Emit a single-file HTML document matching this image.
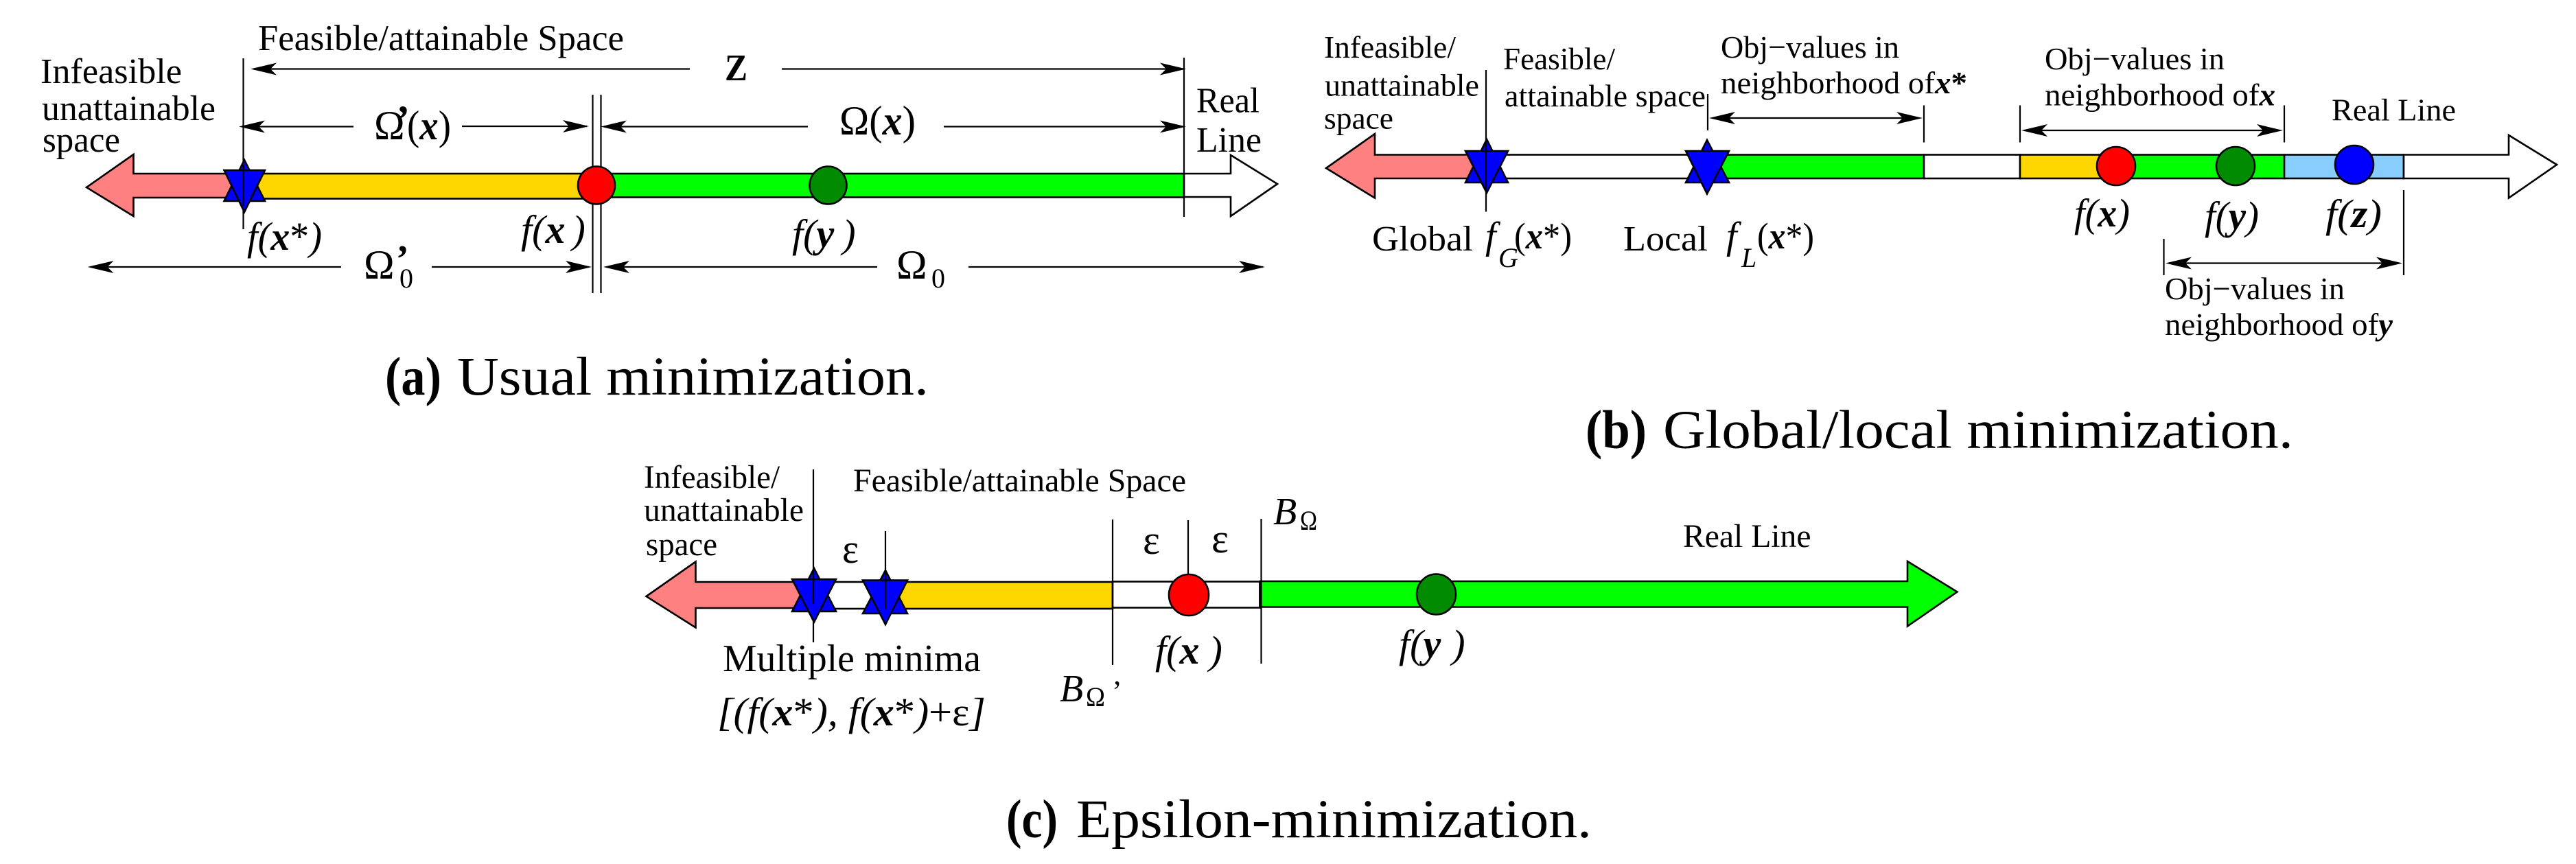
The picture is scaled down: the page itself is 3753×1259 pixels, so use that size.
<!DOCTYPE html>
<html><head><meta charset="utf-8"><title>Minimization diagram</title>
<style>
html,body{margin:0;padding:0;background:#fff}
svg{display:block}
text{font-family:"Liberation Serif",serif;fill:#000;white-space:pre}
.i{font-style:italic}
.bi{font-style:italic;font-weight:bold}
.b{font-weight:bold}
.l{stroke:#000;stroke-width:2.2;fill:none}
.o{stroke:#000;stroke-width:2.6}
</style></head><body>
<svg xmlns="http://www.w3.org/2000/svg" width="3753" height="1259" viewBox="0 0 3753 1259">
<defs>
<path id="al" d="M0 0L38 -9L29 0L38 9Z" fill="#000"/>
<path id="ar" d="M0 0L-38 -9L-29 0L-38 9Z" fill="#000"/>
</defs>
<rect width="3753" height="1259" fill="#fff"/>

<!-- PANEL A -->
<g>
<polygon class="o" points="126,273 194.500,225 194.500,253 340,253 340,288 194.500,288 194.500,315" fill="#FF8080"/>
<rect class="o" x="375" y="253" width="480" height="36.500" fill="#FFD700"/>
<rect class="o" x="855" y="253" width="870" height="34.500" fill="#00FF00"/>
<polygon class="o" points="1725,253 1793,253 1793,226 1861,268 1793,315 1793,287 1725,287" fill="#fff"/>
<line class="l" x1="354.500" y1="85" x2="354.500" y2="334"/>
<line class="l" x1="1725" y1="84" x2="1725" y2="316"/>
<line class="l" x1="863.500" y1="138" x2="863.500" y2="427"/>
<line class="l" x1="875.500" y1="138" x2="875.500" y2="427"/>
<polygon class="o" points="356,233 386,293 326.500,293" fill="#0000FF"/>
<polygon class="o" points="326.500,248 386,248 356,309" fill="#0000FF"/>
<line class="l" x1="354.500" y1="240" x2="354.500" y2="300"/>
<ellipse class="o" cx="869" cy="270" rx="27" ry="27.500" fill="#FF0000"/>
<ellipse class="o" cx="1206.500" cy="270" rx="27" ry="27.500" fill="#008B00"/>

<line class="l" x1="370" y1="100.500" x2="1005" y2="100.500"/>
<line class="l" x1="1139" y1="100.500" x2="1725" y2="100.500"/>
<use href="#al" x="365" y="100.500"/><use href="#ar" x="1728" y="100.500"/>
<line class="l" x1="352" y1="184.500" x2="515" y2="184.500"/>
<line class="l" x1="673" y1="184" x2="855" y2="184"/>
<use href="#al" x="348" y="184.500"/><use href="#ar" x="858" y="184"/>
<line class="l" x1="880" y1="184.500" x2="1177" y2="184.500"/>
<line class="l" x1="1375" y1="184.500" x2="1725" y2="184.500"/>
<use href="#al" x="875" y="184.500"/><use href="#ar" x="1728" y="184.500"/>
<line class="l" x1="132" y1="389" x2="497" y2="389"/>
<line class="l" x1="629" y1="389" x2="858" y2="389"/>
<use href="#al" x="127.500" y="389"/><use href="#ar" x="862" y="389"/>
<line class="l" x1="884" y1="389" x2="1278" y2="389"/>
<line class="l" x1="1411" y1="389" x2="1840" y2="389"/>
<use href="#al" x="879" y="389"/><use href="#ar" x="1843" y="389"/>

<text x="376" y="73" font-size="53" textLength="533" lengthAdjust="spacingAndGlyphs">Feasible/attainable Space</text>
<text x="59" y="121" font-size="52" textLength="206" lengthAdjust="spacingAndGlyphs">Infeasible</text>
<text x="61" y="175" font-size="52" textLength="253" lengthAdjust="spacingAndGlyphs">unattainable</text>
<text x="62" y="221" font-size="52" textLength="113" lengthAdjust="spacingAndGlyphs">space</text>
<text x="1056" y="117" font-size="55" class="b" textLength="33" lengthAdjust="spacingAndGlyphs">Z</text>
<text x="545" y="203" font-size="60">Ω</text><text x="577" y="195" font-size="60" class="b">’</text>
<text x="593" y="203" font-size="60" textLength="64" lengthAdjust="spacingAndGlyphs">(<tspan class="bi">x</tspan>)</text>
<text x="1223" y="196" font-size="60" textLength="111" lengthAdjust="spacingAndGlyphs">Ω(<tspan class="bi">x</tspan>)</text>
<text x="530" y="406" font-size="60">Ω</text><text x="577" y="396" font-size="56" class="b">’</text>
<text x="582" y="419" font-size="40">0</text>
<text x="1306" y="406" font-size="60">Ω</text>
<text x="1357" y="419" font-size="40">0</text>
<text x="1743" y="163.500" font-size="52" textLength="92" lengthAdjust="spacingAndGlyphs">Real</text>
<text x="1743" y="221" font-size="52" textLength="95" lengthAdjust="spacingAndGlyphs">Line</text>
<text x="360" y="364" font-size="58" class="i" textLength="109" lengthAdjust="spacingAndGlyphs">f(<tspan class="bi">x</tspan><tspan font-style="normal">*</tspan>)</text>
<text x="759" y="354" font-size="58" class="i">f(<tspan class="bi">x</tspan><tspan dx="10">)</tspan></text>
<text x="1154" y="360" font-size="58" class="i">f(<tspan class="bi">y</tspan><tspan dx="12">)</tspan></text>
<text x="561" y="575" font-size="79" class="b" textLength="82" lengthAdjust="spacingAndGlyphs">(a)</text>
<text x="666" y="575" font-size="79" textLength="687" lengthAdjust="spacingAndGlyphs">Usual minimization.</text>
</g>

<!-- PANEL B -->
<g>
<polygon class="o" points="1932,245 2003,195 2003,225.500 2150,225.500 2150,260 2003,260 2003,288.500" fill="#FF8080"/>
<rect class="o" x="2170" y="225.500" width="320" height="34.500" fill="#fff"/>
<rect class="o" x="2490" y="225.500" width="313" height="34.500" fill="#00FF00"/>
<rect class="o" x="2803" y="225.500" width="140" height="34.500" fill="#fff"/>
<rect class="o" x="2943" y="225.500" width="140" height="34.500" fill="#FFD700"/>
<rect class="o" x="3083" y="225.500" width="245" height="34.500" fill="#00FF00"/>
<rect class="o" x="3328" y="225.500" width="174" height="34.500" fill="#87CEFF"/>
<polygon class="o" points="3502,225.500 3655,225.500 3655,197 3725,240 3655,288.500 3655,260 3502,260" fill="#fff"/>

<polygon class="o" points="2166,203 2197,266 2135,266" fill="#0000FF"/>
<polygon class="o" points="2135,220 2197,220 2166,281" fill="#0000FF"/>
<line class="l" x1="2165" y1="102" x2="2165" y2="308.500"/>
<polygon class="o" points="2487,204 2519,266 2456,266" fill="#0000FF"/>
<polygon class="o" points="2456,220 2519,220 2487,282.500" fill="#0000FF"/>
<ellipse class="o" cx="3083" cy="242" rx="28" ry="28" fill="#FF0000"/>
<ellipse class="o" cx="3257" cy="242" rx="28" ry="28" fill="#008B00"/>
<ellipse class="o" cx="3430" cy="240" rx="28" ry="28" fill="#0000FF"/>

<line class="l" x1="2488" y1="137" x2="2488" y2="190"/>
<line class="l" x1="2803" y1="153.500" x2="2803" y2="207.500"/>
<line class="l" x1="2943" y1="153.500" x2="2943" y2="207.500"/>
<line class="l" x1="3328" y1="153.500" x2="3328" y2="207.500"/>
<line class="l" x1="3152.500" y1="348" x2="3152.500" y2="401"/>
<line class="l" x1="3502" y1="277" x2="3502" y2="401"/>
<line class="l" x1="2495" y1="172" x2="2795" y2="172"/>
<use href="#al" x="2490" y="172"/><use href="#ar" x="2801" y="172"/>
<line class="l" x1="2950" y1="190" x2="3320" y2="190"/>
<use href="#al" x="2945" y="190"/><use href="#ar" x="3326" y="190"/>
<line class="l" x1="3160" y1="383.500" x2="3495" y2="383.500"/>
<use href="#al" x="3155" y="383.500"/><use href="#ar" x="3500" y="383.500"/>

<text x="1929" y="84" font-size="46" textLength="192" lengthAdjust="spacingAndGlyphs">Infeasible/</text>
<text x="1930" y="139.500" font-size="46" textLength="225" lengthAdjust="spacingAndGlyphs">unattainable</text>
<text x="1929" y="187.500" font-size="46" textLength="101" lengthAdjust="spacingAndGlyphs">space</text>
<text x="2190" y="101" font-size="46" textLength="163" lengthAdjust="spacingAndGlyphs">Feasible/</text>
<text x="2192" y="155" font-size="46" textLength="293" lengthAdjust="spacingAndGlyphs">attainable space</text>
<text x="2507" y="84" font-size="46" textLength="260" lengthAdjust="spacingAndGlyphs">Obj−values in</text>
<text x="2507" y="136" font-size="46" textLength="359" lengthAdjust="spacingAndGlyphs">neighborhood of<tspan class="bi">x</tspan><tspan class="b">*</tspan></text>
<text x="2979" y="101" font-size="46" textLength="262" lengthAdjust="spacingAndGlyphs">Obj−values in</text>
<text x="2979" y="153.500" font-size="46" textLength="336" lengthAdjust="spacingAndGlyphs">neighborhood of<tspan class="bi">x</tspan></text>
<text x="3154" y="436" font-size="46" textLength="262" lengthAdjust="spacingAndGlyphs">Obj−values in</text>
<text x="3154" y="488" font-size="46" textLength="332" lengthAdjust="spacingAndGlyphs">neighborhood of<tspan class="bi">y</tspan></text>
<text x="3397" y="175.500" font-size="46" textLength="181" lengthAdjust="spacingAndGlyphs">Real Line</text>
<text x="1999" y="365" font-size="52" textLength="147" lengthAdjust="spacingAndGlyphs">Global</text>
<text x="2365" y="365" font-size="52" textLength="123" lengthAdjust="spacingAndGlyphs">Local</text>
<text x="2164" y="362" font-size="56" class="i">f</text>
<text x="2183" y="389" font-size="40" class="i">G</text>
<text x="2206" y="362" font-size="54" textLength="84" lengthAdjust="spacingAndGlyphs">(<tspan class="bi">x</tspan>*)</text>
<text x="2515" y="362" font-size="56" class="i">f</text>
<text x="2537" y="389" font-size="40" class="i">L</text>
<text x="2560" y="362" font-size="54" textLength="83" lengthAdjust="spacingAndGlyphs">(<tspan class="bi">x</tspan>*)</text>
<text x="3022" y="330" font-size="58" class="i" textLength="81" lengthAdjust="spacingAndGlyphs">f(<tspan class="bi">x</tspan>)</text>
<text x="3212" y="334" font-size="58" class="i" textLength="79" lengthAdjust="spacingAndGlyphs">f(<tspan class="bi">y</tspan>)</text>
<text x="3388" y="331" font-size="58" class="i" textLength="82" lengthAdjust="spacingAndGlyphs">f(<tspan class="bi">z</tspan>)</text>
<text x="2310" y="652.500" font-size="79" class="b" textLength="89" lengthAdjust="spacingAndGlyphs">(b)</text>
<text x="2423" y="652.500" font-size="79" textLength="918" lengthAdjust="spacingAndGlyphs">Global/local minimization.</text>
</g>

<!-- PANEL C -->
<g>
<polygon class="o" points="941.500,869 1013.500,818.500 1013.500,848 1170,848 1170,886 1013.500,886 1013.500,914.500" fill="#FF8080"/>
<rect class="o" x="1200" y="848" width="80" height="39" fill="#fff"/>
<rect class="o" x="1300" y="848" width="321" height="39" fill="#FFD700"/>
<rect class="o" x="1621" y="847.500" width="214.500" height="38" fill="#fff"/>
<polygon class="o" points="1835.500,847 2779,847 2779,818 2851.500,862.500 2779,912.500 2779,884.500 1835.500,884.500" fill="#00FF00"/>

<line class="l" x1="1185" y1="684" x2="1185" y2="936"/>
<polygon class="o" points="1186,828 1218,891 1154,891" fill="#0000FF"/>
<polygon class="o" points="1154,844 1218,844 1186,906.500" fill="#0000FF"/>
<line class="l" x1="1185" y1="830" x2="1185" y2="880"/>
<polygon class="o" points="1290,831 1322,894 1257,894" fill="#0000FF"/>
<polygon class="o" points="1257,845.500 1322,845.500 1290,910" fill="#0000FF"/>
<line class="l" x1="1290" y1="774" x2="1290" y2="888"/>
<line class="l" x1="1621" y1="757" x2="1621" y2="969"/>
<line class="l" x1="1731" y1="758" x2="1731" y2="838"/>
<line class="l" x1="1837.500" y1="756" x2="1837.500" y2="967"/>
<ellipse class="o" cx="1732" cy="867" rx="29" ry="30" fill="#FF0000"/>
<ellipse class="o" cx="2092.500" cy="866" rx="28.500" ry="29.500" fill="#008B00"/>

<text x="938" y="711" font-size="48" textLength="198" lengthAdjust="spacingAndGlyphs">Infeasible/</text>
<text x="938" y="759" font-size="48" textLength="233" lengthAdjust="spacingAndGlyphs">unattainable</text>
<text x="941" y="809" font-size="48" textLength="104" lengthAdjust="spacingAndGlyphs">space</text>
<text x="1243" y="716" font-size="48" textLength="485" lengthAdjust="spacingAndGlyphs">Feasible/attainable Space</text>
<text x="1227" y="820" font-size="60" textLength="24" lengthAdjust="spacingAndGlyphs">ε</text>
<text x="1665" y="807" font-size="60" textLength="25" lengthAdjust="spacingAndGlyphs">ε</text>
<text x="1765" y="805" font-size="60" textLength="25" lengthAdjust="spacingAndGlyphs">ε</text>
<text x="1855" y="764" font-size="56" class="i">B</text>
<text x="1894" y="772" font-size="40" textLength="25" lengthAdjust="spacingAndGlyphs">Ω</text>
<text x="1544" y="1022" font-size="56" class="i">B</text>
<text x="1582" y="1029" font-size="40" textLength="28" lengthAdjust="spacingAndGlyphs">Ω</text>
<text x="1620" y="1022" font-size="44">’</text>
<text x="1053" y="978" font-size="56" textLength="376" lengthAdjust="spacingAndGlyphs">Multiple minima</text>
<text x="1045" y="1057" font-size="58" class="i" textLength="391" lengthAdjust="spacingAndGlyphs">[(f(<tspan class="bi">x</tspan><tspan font-style="normal">*</tspan>), f(<tspan class="bi">x</tspan><tspan font-style="normal">*</tspan>)<tspan font-style="normal">+ε</tspan>]</text>
<text x="1683" y="967" font-size="58" class="i">f(<tspan class="bi">x</tspan><tspan dx="14">)</tspan></text>
<text x="2038" y="958" font-size="58" class="i">f(<tspan class="bi">y</tspan><tspan dx="16">)</tspan></text>
<text x="2452" y="797" font-size="48" textLength="186.500" lengthAdjust="spacingAndGlyphs">Real Line</text>
<text x="1466" y="1220" font-size="79" class="b" textLength="75" lengthAdjust="spacingAndGlyphs">(c)</text>
<text x="1568" y="1220" font-size="79" textLength="751" lengthAdjust="spacingAndGlyphs">Epsilon-minimization.</text>
</g>
</svg>
</body></html>
